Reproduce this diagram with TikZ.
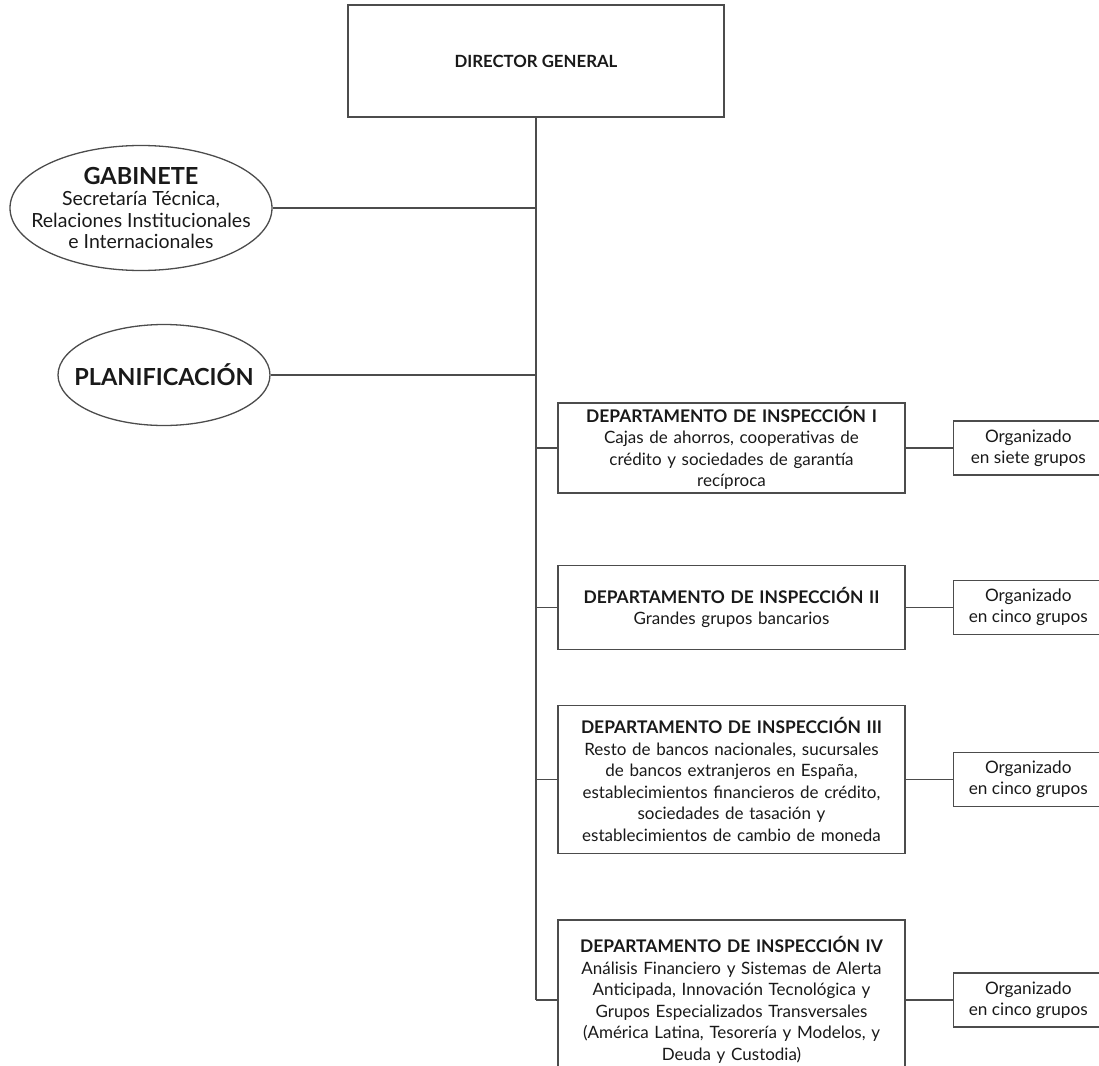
\documentclass[tikz,border=0pt]{standalone}
\usepackage{fontspec}
\setmainfont{Lato}
\usetikzlibrary{positioning,shapes.geometric}
\tikzset{
    thin line/.style = {draw=black!70, line width=1.3pt},
    head node/.style = {thin line, minimum width=376pt, minimum height=112pt, font=\fontsize{16.8}{20}\selectfont\bfseries},
    oval node/.style = {ellipse, thin line, align=center, inner xsep=-20pt, inner ysep=0pt, font=\fontsize{19.5}{21.5}\selectfont},
    dept node/.style = {thin line, align=center, text width=340pt, minimum width=347pt, inner sep=0pt, font=\fontsize{17}{21.5}\selectfont},
    group node/.style = {thin line, align=center, minimum width=150pt, minimum height=54pt, inner sep=0pt, font=\fontsize{17.2}{21}\selectfont}
}
\newcommand{\ovaltitle}[1]{{\fontsize{23.5}{24}\selectfont\bfseries #1}}
\newcommand{\depttitle}[1]{{\fontsize{17.4}{21.5}\selectfont\bfseries #1}}

\begin{document}
\begin{tikzpicture}[x=1pt,y=-1pt,node distance=47pt,color=black!90]
    \useasboundingbox (0,0) rectangle (1099,1065);

    \node[head node] (dg) at (536,61) {DIRECTOR GENERAL};

    \node[oval node, minimum width=262pt, minimum height=125pt] (gab) at (141,208)
        {\ovaltitle{GABINETE}\\Secretaría Técnica,\\Relaciones Institucionales\\e Internacionales};
    \node[oval node, minimum width=212pt, minimum height=101pt] (plan) at (164,375)
        {\ovaltitle{PLANIFICACIÓN}};

    % departamentos
    \node[dept node, minimum height=90pt] (insp1) at (731.5,448)
        {\depttitle{DEPARTAMENTO DE INSPECCIÓN I}\\Cajas de ahorros, cooperativas de\\crédito y sociedades de garantía\\recíproca};
    \node[dept node, minimum height=84pt, below=71pt of insp1] (insp2)
        {\depttitle{DEPARTAMENTO DE INSPECCIÓN II}\\Grandes grupos bancarios};
    \node[dept node, minimum height=148pt, below=55pt of insp2] (insp3)
        {\depttitle{DEPARTAMENTO DE INSPECCIÓN III}\\Resto de bancos nacionales, sucursales\\de bancos extranjeros en España,\\establecimientos financieros de crédito,\\sociedades de tasación y\\establecimientos de cambio de moneda};
    \node[dept node, minimum height=160pt, below=65pt of insp3] (insp4)
        {\depttitle{DEPARTAMENTO DE INSPECCIÓN IV}\\Análisis Financiero y Sistemas de Alerta\\Anticipada, Innovación Tecnológica y\\Grupos Especializados Transversales\\(América Latina, Tesorería y Modelos, y\\Deuda y Custodia)};

    % grupos
    \node[group node, right=of insp1] (grp1) {Organizado\\en siete grupos};
    \node[group node, right=of insp2] (grp2) {Organizado\\en cinco grupos};
    \node[group node, right=of insp3] (grp3) {Organizado\\en cinco grupos};
    \node[group node, right=of insp4] (grp4) {Organizado\\en cinco grupos};

    \draw[thin line] (dg.south) -- (dg.south |- insp4.west);
    \draw[thin line] (gab.east) -- (gab.east -| dg.south);
    \draw[thin line] (plan.east) -- (plan.east -| dg.south);
    \draw[thin line] (dg.south |- insp1.west) -- (insp1.west);
    \draw[thin line] (dg.south |- insp2.west) -- (insp2.west);
    \draw[thin line] (dg.south |- insp3.west) -- (insp3.west);
    \draw[thin line] (dg.south |- insp4.west) -- (insp4.west);

    \draw[thin line] (insp1) -- (grp1);
    \draw[thin line] (insp2) -- (grp2);
    \draw[thin line] (insp3) -- (grp3);
    \draw[thin line] (insp4) -- (grp4);

\end{tikzpicture}
\end{document}
